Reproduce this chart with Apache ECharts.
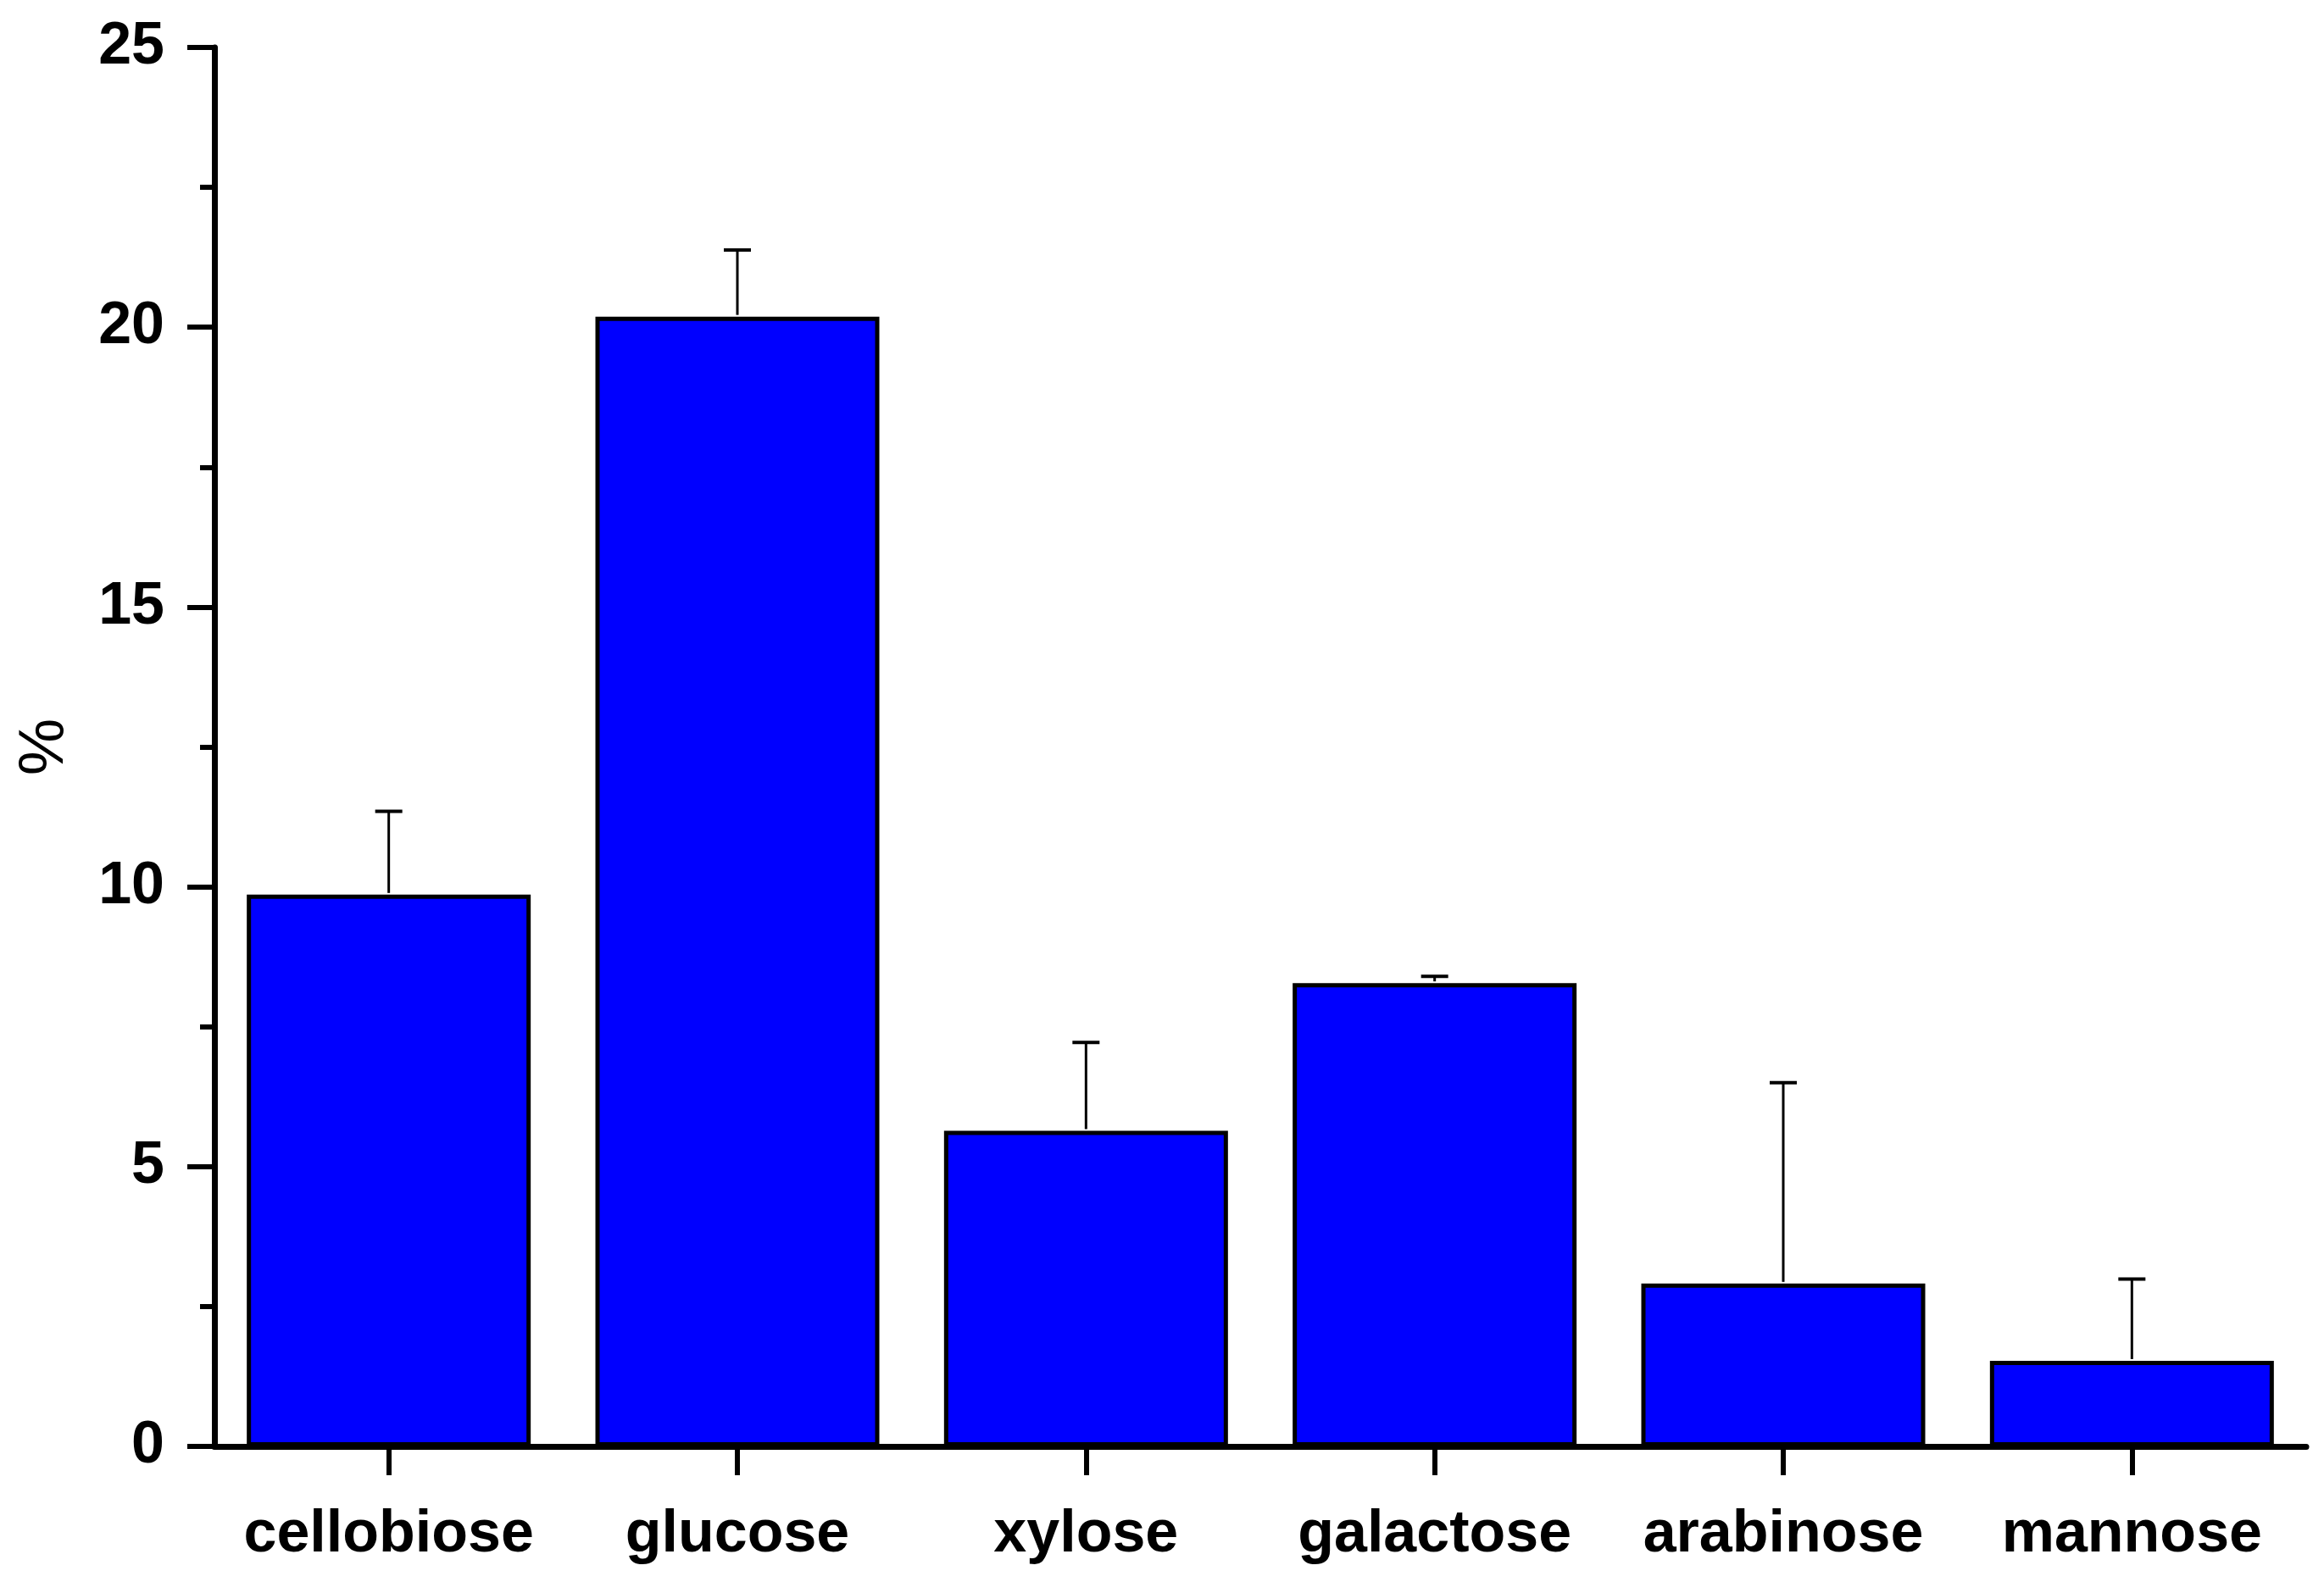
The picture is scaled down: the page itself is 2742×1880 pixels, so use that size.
<!DOCTYPE html>
<html>
<head>
<meta charset="utf-8">
<script src="https://cdn.jsdelivr.net/npm/echarts@6/dist/echarts.min.js"></script>
<style>
html,body{margin:0;padding:0;background:#fff;}
#chart{width:2742px;height:1880px;}
</style>
</head>
<body>
<div id="chart"></div>
<script>
const categories = ['cellobiose', 'glucose', 'xylose', 'galactose', 'arabinose', 'mannose'];
const values = [9.86, 20.19, 5.64, 8.28, 2.91, 1.53];
const upperErrors = [1.49, 1.19, 1.58, 0.12, 3.59, 1.46];
const yTicks = [0, 5, 10, 15, 20, 25];
const yAxisTitle = '%';

const errData = categories.map((c, i) => [i, values[i], values[i] + upperErrors[i]]);

const chart = echarts.init(document.getElementById('chart'));
chart.setOption({
  backgroundColor: '#ffffff',
  animation: false,
  grid: { left: 253, right: 21, top: 56, bottom: 173, containLabel: false },
  xAxis: {
    type: 'category',
    data: categories,
    axisLine: { show: true, lineStyle: { color: '#000', width: 7 } },
    axisTick: { show: true, interval: 0, alignWithLabel: true, length: 34, lineStyle: { color: '#000', width: 6 } },
    axisLabel: { interval: 0, color: '#000', fontFamily: 'Liberation Sans, Arial, sans-serif', fontWeight: 'bold', fontSize: 70, margin: 70 },
    splitLine: { show: false }
  },
  yAxis: {
    type: 'value',
    min: yTicks[0],
    max: yTicks[yTicks.length - 1],
    interval: 5,
    name: yAxisTitle,
    nameLocation: 'middle',
    nameRotate: 90,
    nameGap: 162,
    nameTextStyle: { color: '#000', fontFamily: 'Liberation Sans, Arial, sans-serif', fontSize: 76 },
    axisLine: { show: true, onZero: false, lineStyle: { color: '#000', width: 7 } },
    axisTick: { show: true, length: 32, lineStyle: { color: '#000', width: 6 } },
    minorTick: { show: true, splitNumber: 2, length: 17, lineStyle: { color: '#000', width: 6 } },
    axisLabel: { color: '#000', fontFamily: 'Liberation Sans, Arial, sans-serif', fontWeight: 'bold', fontSize: 70, margin: 59 },
    splitLine: { show: false },
    minorSplitLine: { show: false }
  },
  series: [
    {
      type: 'bar',
      data: values,
      barWidth: 335,
      itemStyle: { color: '#0000ff', borderColor: '#000', borderWidth: 5 },
      z: 2
    },
    {
      type: 'custom',
      data: errData,
      z: 3,
      renderItem: function (params, api) {
        const x = api.value(0);
        const base = api.coord([x, api.value(1)]);
        const top = api.coord([x, api.value(2)]);
        const half = 16;
        return {
          type: 'group',
          children: [
            { type: 'line', shape: { x1: base[0], y1: base[1] - 2, x2: top[0], y2: top[1] }, style: { stroke: '#000', lineWidth: 3 } },
            { type: 'line', shape: { x1: top[0] - half, y1: top[1], x2: top[0] + half, y2: top[1] }, style: { stroke: '#000', lineWidth: 4 } }
          ]
        };
      }
    }
  ]
});
</script>
</body>
</html>
